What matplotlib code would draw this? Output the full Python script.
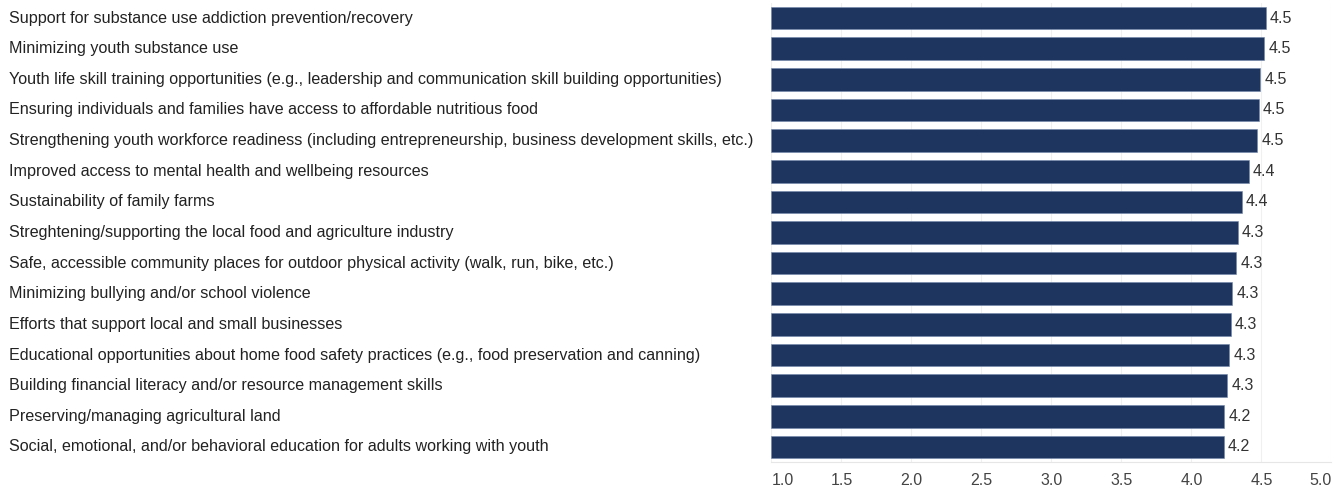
import matplotlib
matplotlib.use("Agg")
import matplotlib.pyplot as plt
from matplotlib.transforms import blended_transform_factory

# ==========================================================
# Data
# ==========================================================

CATEGORIES = [
    "Support for substance use addiction prevention/recovery",
    "Minimizing youth substance use",
    "Youth life skill training opportunities (e.g., leadership and communication skill building opportunities)",
    "Ensuring individuals and families have access to affordable nutritious food",
    "Strengthening youth workforce readiness (including entrepreneurship, business development skills, etc.)",
    "Improved access to mental health and wellbeing resources",
    "Sustainability of family farms",
    "Streghtening/supporting the local food and agriculture industry",
    "Safe, accessible community places for outdoor physical activity (walk, run, bike, etc.)",
    "Minimizing bullying and/or school violence",
    "Efforts that support local and small businesses",
    "Educational opportunities about home food safety practices (e.g., food preservation and canning)",
    "Building financial literacy and/or resource management skills",
    "Preserving/managing agricultural land",
    "Social, emotional, and/or behavioral education for adults working with youth",
]

SCORES = [4.53, 4.52, 4.49, 4.48, 4.47, 4.41, 4.36, 4.33, 4.32,
          4.29, 4.28, 4.27, 4.255, 4.235, 4.23]

X_TICKS = [1.0, 1.5, 2.0, 2.5, 3.0, 3.5, 4.0, 4.5, 5.0]

BASE = 1.0

# ==========================================================
# Style
# ==========================================================

plt.rcParams["font.family"] = ["Liberation Sans", "DejaVu Sans"]

BAR_COLOR = "#1e3560"
TEXT_COLOR = "#222222"
TICK_COLOR = "#444444"
GRID_COLOR = "#f0f0f0"

# ==========================================================
# Plot
# ==========================================================

fig = plt.figure(figsize=(13.41, 4.88), dpi=100)

ax = fig.add_axes([0.5753, 0.0527, 0.4176, 0.9418])

positions = list(range(len(CATEGORIES)))

ax.barh(
    positions,
    [s - BASE for s in SCORES],
    left=BASE,
    height=0.74,
    color=BAR_COLOR,
    edgecolor="#6f86a8",
    linewidth=0.4,
    zorder=3
)

ax.set_xlim(1.0, 5.0)
ax.set_ylim(len(CATEGORIES) - 0.5, -0.5)

ax.set_xticks(X_TICKS)
ax.set_xticklabels([f"{t:.1f}" for t in X_TICKS])
ax.tick_params(axis="x", length=0, pad=8, labelsize=11.5, labelcolor=TICK_COLOR)
ax.set_yticks([])

tick_labels = ax.get_xticklabels()
tick_labels[0].set_horizontalalignment("left")
tick_labels[-1].set_horizontalalignment("right")

ax.grid(axis="x", color=GRID_COLOR, linewidth=0.8, zorder=0)

for side in ["top", "right", "left"]:
    ax.spines[side].set_visible(False)
ax.spines["bottom"].set_color("#e6e6e6")
ax.spines["bottom"].set_linewidth(0.8)

# value labels
for pos, score in zip(positions, SCORES):
    ax.text(
        score + 0.03,
        pos,
        f"{score:.1f}",
        va="center",
        ha="left",
        fontsize=11.5,
        color="#333333"
    )

# category labels, left aligned at figure edge
trans = blended_transform_factory(fig.transFigure, ax.transData)
for pos, label in zip(positions, CATEGORIES):
    ax.text(
        9 / 1341,
        pos,
        label,
        transform=trans,
        va="center",
        ha="left",
        fontsize=11.6,
        color=TEXT_COLOR,
        clip_on=False
    )

fig.savefig("out.png", dpi=100)
